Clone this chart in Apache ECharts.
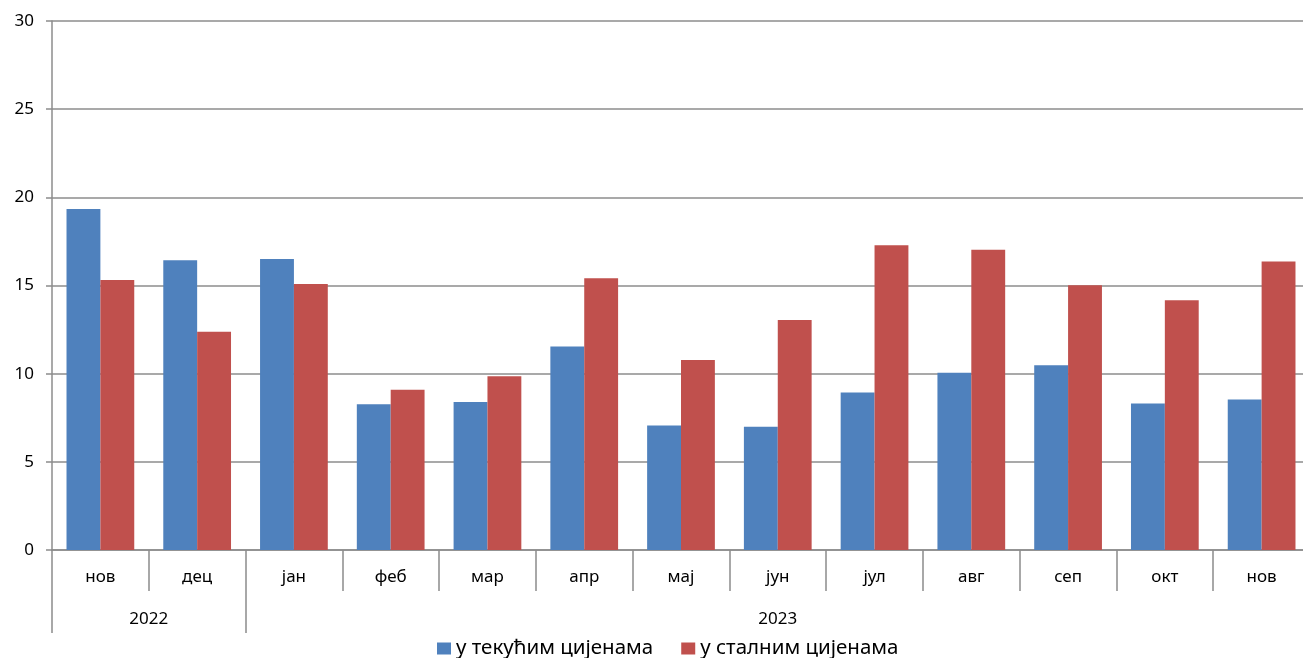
<!DOCTYPE html>
<html>
<head>
<meta charset="utf-8">
<script src="https://cdn.jsdelivr.net/npm/echarts@6/dist/echarts.min.js"></script>
<style>
html,body{margin:0;padding:0;background:#fff;overflow:hidden;}
#c{width:1310px;height:658px;}
</style>
</head>
<body>
<div id="c"></div>
<script>
const months = ['нов','дец','јан','феб','мар','апр','мај','јун','јул','авг','сеп','окт','нов'];
const years = ['2022','2023'];
const yearSpans = [2, 11];
const seriesNames = ['у текућим цијенама','у сталним цијенама'];
const current = [19.34, 16.43, 16.5, 8.26, 8.4, 11.54, 7.06, 6.99, 8.93, 10.05, 10.48, 8.31, 8.54];
const constant = [15.31, 12.38, 15.09, 9.09, 9.86, 15.41, 10.78, 13.05, 17.28, 17.03, 15.01, 14.16, 16.36];
const yTicks = [0, 5, 10, 15, 20, 25, 30];

// year group boundaries and centres (in category units)
const yearBounds = [0];
const yearCentres = [];
yearSpans.forEach((s, i) => { yearCentres.push(yearBounds[i] + s / 2); yearBounds.push(yearBounds[i] + s); });

const FONT = 'Noto Sans';
const chart = echarts.init(document.getElementById('c'), null, {renderer: 'canvas'});
chart.setOption({
  animation: false,
  textStyle: {fontFamily: FONT},
  color: ['#4F81BD', '#C0504D'],
  grid: {left: 52, right: 0, top: 21, bottom: 108, containLabel: false},
  legend: {
    data: seriesNames,
    left: 432, top: 633,
    itemWidth: 14, itemHeight: 12, itemGap: 28,
    icon: 'rect',
    textStyle: {fontSize: 20.5, color: '#000', fontFamily: FONT}
  },
  xAxis: [
    {
      type: 'category',
      data: months,
      axisLine: {lineStyle: {color: '#8c8c8c', width: 1.5}},
      axisTick: {show: true, interval: 0, length: 41, lineStyle: {color: '#8c8c8c', width: 1.5}},
      axisLabel: {interval: 0, color: '#000', fontSize: 17, margin: 19}
    },
    {
      type: 'value',
      position: 'bottom',
      min: 0, max: months.length,
      axisLine: {show: false},
      splitLine: {show: false},
      axisTick: {show: true, customValues: yearBounds, length: 83, lineStyle: {color: '#8c8c8c', width: 1.5}},
      axisLabel: {
        customValues: yearCentres,
        color: '#000', fontSize: 17, margin: 61,
        formatter: function (v) {
          const i = yearCentres.indexOf(v);
          return i >= 0 ? years[i] : '';
        }
      }
    }
  ],
  yAxis: {
    type: 'value',
    min: 0, max: 30, interval: 5,
    axisLine: {show: true, lineStyle: {color: '#8c8c8c', width: 1.5}},
    axisTick: {show: true, length: 6, lineStyle: {color: '#8c8c8c', width: 1.5}},
    axisLabel: {color: '#000', fontSize: 17, margin: 18,
      formatter: function (v) { return yTicks.indexOf(v) >= 0 ? String(v) : ''; }},
    splitLine: {show: true, lineStyle: {color: '#8c8c8c', width: 1.5}}
  },
  series: [
    {name: seriesNames[0], type: 'bar', xAxisIndex: 0, data: current, barGap: '0%', barCategoryGap: '30%'},
    {name: seriesNames[1], type: 'bar', xAxisIndex: 0, data: constant, barGap: '0%', barCategoryGap: '30%'}
  ]
});
</script>
</body>
</html>
